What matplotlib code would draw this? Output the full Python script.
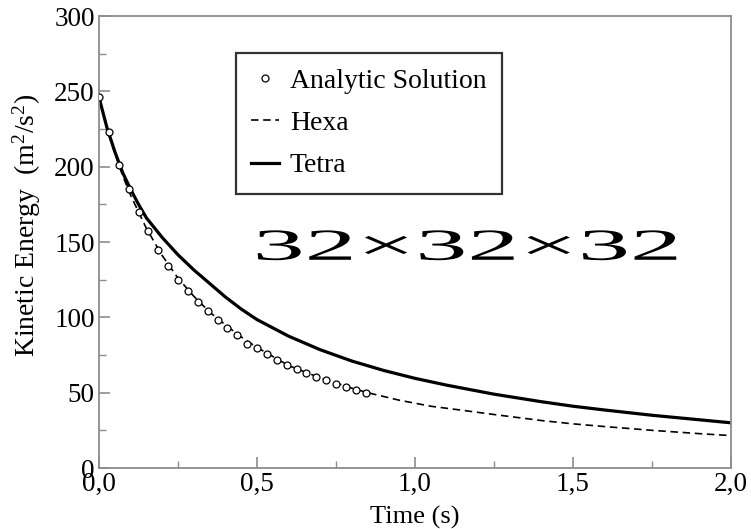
import matplotlib
matplotlib.use("Agg")
import matplotlib.pyplot as plt
from matplotlib import patheffects
from matplotlib.transforms import Affine2D
from matplotlib.ticker import MultipleLocator, FixedLocator

# ---- data ----
analytic_t = [i / 32 for i in range(28)]
analytic_ke = [246, 223, 201, 185, 170, 157, 145, 134, 125, 117.5, 110, 104,
               98.5, 93, 88, 82.5, 79.5, 75.5, 72, 68.5, 65.5, 63, 60.5, 58.5,
               56, 54, 52, 50]

hexa_t = [0, 0.025, 0.05, 0.075, 0.1, 0.15, 0.2, 0.25, 0.3, 0.35, 0.4, 0.45,
          0.5, 0.6, 0.7, 0.8, 0.85, 0.95, 1.05, 1.15, 1.25, 1.4, 1.5, 1.6,
          1.75, 1.9, 2.0]
hexa_ke = [246, 226, 209, 194, 181, 159, 141, 126, 114, 103.5, 95, 87,
           80, 68, 59.8, 53, 50, 45, 41, 38.3, 35.5, 31.5, 29.3, 27.5,
           25, 22.8, 21.5]

tetra_t = [0, 0.025, 0.05, 0.075, 0.1, 0.125, 0.15, 0.2, 0.25, 0.3, 0.35, 0.4,
           0.45, 0.5, 0.6, 0.7, 0.8, 0.9, 1.0, 1.1, 1.25, 1.4, 1.5, 1.6,
           1.75, 1.9, 2.0]
tetra_ke = [246, 226, 210, 196, 185, 175, 166, 153, 141.5, 131.5, 122.5, 113.5,
            105.5, 98.5, 87.5, 78.5, 71, 64.8, 59.5, 55, 49, 44, 41, 38.5,
            35, 32, 30]

x_ticks = [0.0, 0.5, 1.0, 1.5, 2.0]
x_tick_labels = ["0,0", "0,5", "1,0", "1,5", "2,0"]
y_ticks = [0, 50, 100, 150, 200, 250, 300]

# ---- style ----
plt.rcParams["font.family"] = ["Liberation Serif", "DejaVu Serif"]
plt.rcParams["mathtext.fontset"] = "custom"
plt.rcParams["mathtext.rm"] = "Liberation Serif"
plt.rcParams["mathtext.it"] = "Liberation Serif"

W, H = 751, 529
fig = plt.figure(figsize=(W / 100, H / 100), dpi=100)
ax = fig.add_axes([99 / W, 1 - 468 / H, (731 - 99) / W, (468 - 16) / H])

ax.plot(analytic_t, analytic_ke, linestyle="none", marker="o", markersize=5,
        markerfacecolor="white", markeredgecolor="black", markeredgewidth=0.9,
        label="Analytic Solution", zorder=3)
ax.plot(hexa_t, hexa_ke, color="black", linestyle=(0, (4.5, 2.8)), linewidth=1.2,
        label="Hexa", zorder=2)
ax.plot(tetra_t, tetra_ke, color="black", linestyle="-", linewidth=2.3,
        label="Tetra", zorder=2)

ax.set_xlim(0, 2.0)
ax.set_ylim(0, 300)
ax.xaxis.set_major_locator(FixedLocator(x_ticks))
ax.set_xticklabels(x_tick_labels)
ax.xaxis.set_minor_locator(MultipleLocator(0.25))
ax.yaxis.set_major_locator(FixedLocator(y_ticks))
ax.yaxis.set_minor_locator(MultipleLocator(25))

for sp in ax.spines.values():
    sp.set_color("#8c8c8c")
    sp.set_linewidth(1.3)

ax.tick_params(axis="both", which="both", direction="in", color="#8c8c8c",
               top=False, right=False)
ax.tick_params(axis="both", which="major", length=8, width=1.2, labelsize=19.5,
               pad=3)
ax.tick_params(axis="both", which="minor", length=5, width=1.0)

ax.set_xlabel("Time (s)", fontsize=19, labelpad=6)
ax.set_ylabel("Kinetic Energy  (m$^2$/s$^2$)", fontsize=20)
ax.yaxis.set_label_coords(-0.088, 0.5376)

leg = ax.legend(loc="upper left", bbox_to_anchor=(0.2163, 0.9175),
                borderaxespad=0, fontsize=20, frameon=True, fancybox=False,
                edgecolor="black", handlelength=1.0, handletextpad=0.4,
                labelspacing=0.6, borderpad=0.55, markerscale=1.0)
leg.get_frame().set_linewidth(1.6)


class Stretch(patheffects.AbstractPathEffect):
    def __init__(self, sx):
        super().__init__()
        self.sx = sx

    def draw_path(self, renderer, gc, tpath, affine, rgbFace=None):
        bb = tpath.get_extents(affine)
        cx = 0.5 * (bb.x0 + bb.x1)
        aff = affine + Affine2D().translate(-cx, 0).scale(self.sx, 1).translate(cx, 0)
        renderer.draw_path(gc, tpath, aff, rgbFace)


txt = ax.text(1.166, 145.5, "32\u00d732\u00d732", fontsize=32,
              ha="center", va="center", color="black")
txt.set_path_effects([Stretch(2.34)])

fig.savefig("out.png", dpi=100)
